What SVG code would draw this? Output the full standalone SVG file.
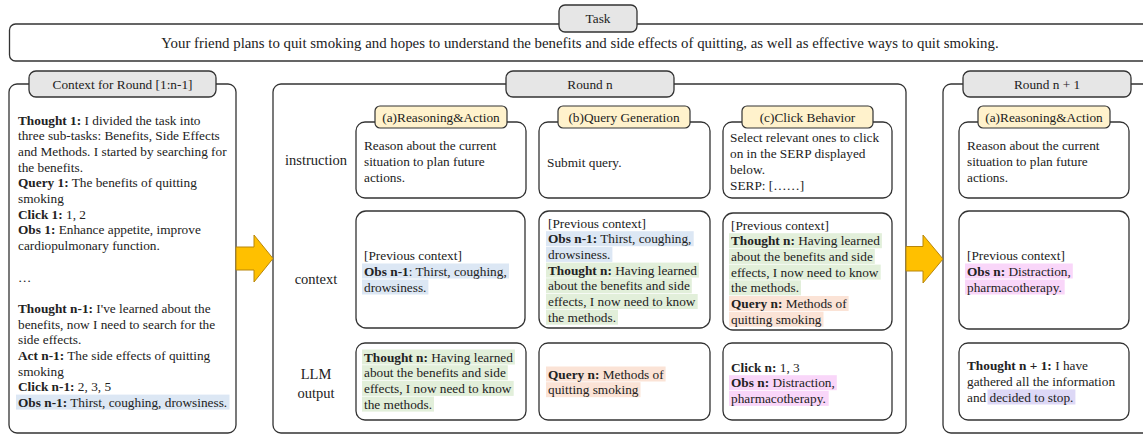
<svg xmlns="http://www.w3.org/2000/svg" width="1143" height="436" viewBox="0 0 1143 436">
<style>
.t{font-family:"Liberation Serif","Times New Roman",serif;font-size:13.3px;fill:#222}
.c{text-anchor:middle}
.lbl{font-family:"Liberation Serif","Times New Roman",serif;font-size:14.5px;fill:#222;text-anchor:middle}
.task{font-family:"Liberation Serif","Times New Roman",serif;font-size:14.85px;fill:#222;text-anchor:middle}
.b{font-weight:bold}
.box{fill:#fff;stroke:#333;stroke-width:1.3}
.tab{fill:#e6e6e6;stroke:#333;stroke-width:1.3}
.ytab{fill:#fff2cc;stroke:#333;stroke-width:1.2}
.hb{fill:#dce7f4}.hg{fill:#e2efda}.ho{fill:#fbe3d6}.hp{fill:#f9d6f9}.hv{fill:#ddd8f6}
.arrow{fill:#ffc000;stroke:#b8860b;stroke-width:1}
</style>
<rect width="1143" height="436" fill="#fff"/>

<g id="task">
<rect class="box" x="9.5" y="24" width="1150" height="37" rx="6"/>
<rect class="tab" x="559" y="5" width="78" height="27" rx="6"/>
<text class="t c" x="598" y="23">Task</text>
<text class="task" x="580" y="48">Your friend plans to quit smoking and hopes to understand the benefits and side effects of quitting, as well as effective ways to quit smoking.</text>
</g>

<g id="context-prev">
<rect class="box" x="9" y="84" width="227" height="349" rx="8"/>
<rect class="tab" x="29" y="71" width="187" height="26" rx="7"/>
<text class="t c" x="122.5" y="88.5">Context for Round [1:n-1]</text>
<rect class="hb" x="16" y="394.6" width="213.5" height="15"/>
<text class="t" x="18" y="124.5"><tspan class="b">Thought 1:</tspan> I divided the task into</text>
<text class="t" x="18" y="140.2">three sub-tasks: Benefits, Side Effects</text>
<text class="t" x="18" y="155.9">and Methods. I started by searching for</text>
<text class="t" x="18" y="171.6">the benefits.</text>
<text class="t" x="18" y="187.3"><tspan class="b">Query 1:</tspan> The benefits of quitting</text>
<text class="t" x="18" y="203">smoking</text>
<text class="t" x="18" y="218.7"><tspan class="b">Click 1:</tspan> 1, 2</text>
<text class="t" x="18" y="234.4"><tspan class="b">Obs 1:</tspan> Enhance appetite, improve</text>
<text class="t" x="18" y="250.1">cardiopulmonary function.</text>
<text class="t" x="18" y="281.5">…</text>
<text class="t" x="18" y="312.9"><tspan class="b">Thought n-1:</tspan> I've learned about the</text>
<text class="t" x="18" y="328.6">benefits, now I need to search for the</text>
<text class="t" x="18" y="344.3">side effects.</text>
<text class="t" x="18" y="360"><tspan class="b">Act n-1:</tspan> The side effects of quitting</text>
<text class="t" x="18" y="375.7">smoking</text>
<text class="t" x="18" y="391.4"><tspan class="b">Click n-1:</tspan> 2, 3, 5</text>
<text class="t" x="18" y="407.1"><tspan class="b">Obs n-1:</tspan> Thirst, coughing, drowsiness.</text>
</g>

<g id="round-n">
<rect class="box" x="273" y="84" width="633" height="349" rx="8"/>
<rect class="tab" x="506" y="71" width="168" height="26" rx="7"/>
<text class="t c" x="590" y="88.5">Round n</text>
<text class="lbl" x="316" y="165">instruction</text>
<text class="lbl" x="316" y="284">context</text>
<text class="lbl" x="316" y="379">LLM</text>
<text class="lbl" x="316" y="398">output</text>
</g>

<g id="a-instruction">
<rect class="box" x="356" y="122" width="170" height="76" rx="9"/>
<rect class="ytab" x="375" y="106" width="132" height="22" rx="5"/>
<text class="t c" x="441" y="121.5">(a)Reasoning&amp;Action</text>
<text class="t" x="364" y="149.5">Reason about the current</text>
<text class="t" x="364" y="165.5">situation to plan future</text>
<text class="t" x="364" y="181.5">actions.</text>
</g>

<g id="b-instruction">
<rect class="box" x="539" y="122" width="171" height="76" rx="9"/>
<rect class="ytab" x="558" y="106" width="132" height="22" rx="5"/>
<text class="t c" x="624" y="121.5">(b)Query Generation</text>
<text class="t" x="547" y="166.5">Submit query.</text>
</g>

<g id="c-instruction">
<rect class="box" x="723" y="122" width="169" height="76" rx="9"/>
<rect class="ytab" x="742" y="106" width="131" height="22" rx="5"/>
<text class="t c" x="807.5" y="121.5">(c)Click Behavior</text>
<text class="t" x="730" y="141.5">Select relevant ones to click</text>
<text class="t" x="730" y="157.5">on in the SERP displayed</text>
<text class="t" x="730" y="173.5">below.</text>
<text class="t" x="730" y="189.5">SERP: [……]</text>
</g>

<g id="a-context">
<rect class="box" x="356" y="211" width="169" height="117" rx="10"/>
<rect class="hb" x="362" y="263.5" width="147" height="15"/>
<rect class="hb" x="362" y="279.5" width="66.4" height="15"/>
<text class="t" x="364" y="259.5">[Previous context]</text>
<text class="t" x="364" y="275.5"><tspan class="b">Obs n-1</tspan>: Thirst, coughing,</text>
<text class="t" x="364" y="291.5">drowsiness.</text>
</g>

<g id="b-context">
<rect class="box" x="539" y="211" width="171" height="117" rx="10"/>
<rect class="hb" x="546" y="231.2" width="147.7" height="15"/>
<rect class="hb" x="546" y="246.9" width="66.4" height="15"/>
<rect class="hg" x="546" y="262.6" width="152.9" height="15"/>
<rect class="hg" x="546" y="278.3" width="145.8" height="15"/>
<rect class="hg" x="546" y="294" width="151.7" height="15"/>
<rect class="hg" x="546" y="309.7" width="72" height="15"/>
<text class="t" x="548" y="227.5">[Previous context]</text>
<text class="t" x="548" y="243.2"><tspan class="b">Obs n-1:</tspan> Thirst, coughing,</text>
<text class="t" x="548" y="258.9">drowsiness.</text>
<text class="t" x="548" y="274.6"><tspan class="b">Thought n:</tspan> Having learned</text>
<text class="t" x="548" y="290.3">about the benefits and side</text>
<text class="t" x="548" y="306">effects, I now need to know</text>
<text class="t" x="548" y="321.7">the methods.</text>
</g>

<g id="c-context">
<rect class="box" x="723" y="213" width="169" height="117" rx="10"/>
<rect class="hg" x="729" y="233.2" width="152.9" height="15"/>
<rect class="hg" x="729" y="248.9" width="145.8" height="15"/>
<rect class="hg" x="729" y="264.6" width="151.7" height="15"/>
<rect class="hg" x="729" y="280.3" width="72" height="15"/>
<rect class="ho" x="729" y="296" width="119.6" height="15"/>
<rect class="ho" x="729" y="311.7" width="94.5" height="15"/>
<text class="t" x="731" y="229.5">[Previous context]</text>
<text class="t" x="731" y="245.2"><tspan class="b">Thought n:</tspan> Having learned</text>
<text class="t" x="731" y="260.9">about the benefits and side</text>
<text class="t" x="731" y="276.6">effects, I now need to know</text>
<text class="t" x="731" y="292.3">the methods.</text>
<text class="t" x="731" y="308"><tspan class="b">Query n:</tspan> Methods of</text>
<text class="t" x="731" y="323.7">quitting smoking</text>
</g>

<g id="a-output">
<rect class="box" x="356" y="343" width="170" height="77" rx="9"/>
<rect class="hg" x="362" y="349.5" width="152.9" height="15"/>
<rect class="hg" x="362" y="365.2" width="145.8" height="15"/>
<rect class="hg" x="362" y="380.9" width="151.7" height="15"/>
<rect class="hg" x="362" y="396.6" width="72" height="15"/>
<text class="t" x="364" y="361.5"><tspan class="b">Thought n:</tspan> Having learned</text>
<text class="t" x="364" y="377.2">about the benefits and side</text>
<text class="t" x="364" y="392.9">effects, I now need to know</text>
<text class="t" x="364" y="408.6">the methods.</text>
</g>

<g id="b-output">
<rect class="box" x="539" y="343" width="171" height="77" rx="9"/>
<rect class="ho" x="546" y="366.5" width="119.6" height="15"/>
<rect class="ho" x="546" y="382.2" width="94.5" height="15"/>
<text class="t" x="548" y="378.5"><tspan class="b">Query n:</tspan> Methods of</text>
<text class="t" x="548" y="394.2">quitting smoking</text>
</g>

<g id="c-output">
<rect class="box" x="723" y="343" width="169" height="77" rx="9"/>
<rect class="hp" x="729" y="375.2" width="107.8" height="15"/>
<rect class="hp" x="729" y="390.9" width="99.7" height="15"/>
<text class="t" x="731" y="371.5"><tspan class="b">Click n:</tspan> 1, 3</text>
<text class="t" x="731" y="387.2"><tspan class="b">Obs n:</tspan> Distraction,</text>
<text class="t" x="731" y="402.9">pharmacotherapy.</text>
</g>

<g id="round-n1">
<rect class="box" x="943" y="84" width="220" height="349" rx="8"/>
<rect class="tab" x="963" y="71" width="168" height="26" rx="7"/>
<text class="t c" x="1047" y="88.5">Round n + 1</text>
</g>

<g id="n1-instruction">
<rect class="box" x="959" y="122" width="170" height="76" rx="9"/>
<rect class="ytab" x="978" y="106" width="132" height="22" rx="5"/>
<text class="t c" x="1044" y="121.5">(a)Reasoning&amp;Action</text>
<text class="t" x="967" y="149.5">Reason about the current</text>
<text class="t" x="967" y="165.5">situation to plan future</text>
<text class="t" x="967" y="181.5">actions.</text>
</g>

<g id="n1-context">
<rect class="box" x="959" y="211" width="170" height="118" rx="10"/>
<rect class="hp" x="965" y="263.5" width="107.8" height="15"/>
<rect class="hp" x="965" y="279.5" width="99.7" height="15"/>
<text class="t" x="967" y="259.5">[Previous context]</text>
<text class="t" x="967" y="275.5"><tspan class="b">Obs n:</tspan> Distraction,</text>
<text class="t" x="967" y="291.5">pharmacotherapy.</text>
</g>

<g id="n1-output">
<rect class="box" x="959" y="343" width="170" height="77" rx="9"/>
<rect class="hv" x="987.5" y="389.5" width="87.9" height="15"/>
<text class="t" x="967" y="369.5"><tspan class="b">Thought n + 1:</tspan> I have</text>
<text class="t" x="967" y="385.5">gathered all the information</text>
<text class="t" x="967" y="401.5">and decided to stop.</text>
</g>

<g id="connectors">
<polygon class="arrow" points="236,247 254,247 254,235 273,258.5 254,282 254,270 236,270"/>
<polygon class="arrow" points="906,246.5 923,246.5 923,235 943,259 923,283 923,271 906,271"/>
</g>
</svg>
